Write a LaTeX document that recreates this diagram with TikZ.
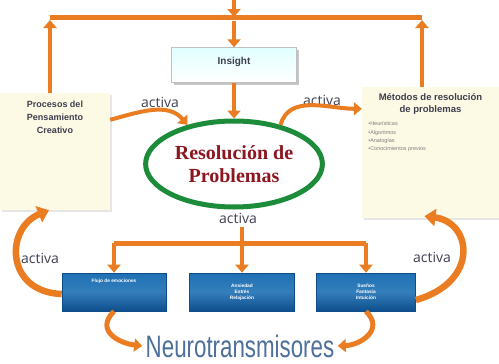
\documentclass[tikz,border=0pt]{standalone}
\usepackage{fontspec}
\setmainfont{Liberation Sans}
\newfontfamily\serifa{Liberation Serif}
\newfontfamily\redonda{Open Sans}
\usetikzlibrary{arrows.meta,shadows,positioning,shapes.geometric}
\definecolor{naranja}{RGB}{234,124,34}
\definecolor{verde}{RGB}{28,140,58}
\definecolor{rojo}{RGB}{140,22,32}
\definecolor{azul}{RGB}{30,112,180}
\definecolor{azulosc}{RGB}{14,78,140}
\definecolor{crema}{RGB}{252,249,228}
\definecolor{gristexto}{RGB}{62,62,78}
\definecolor{neuro}{RGB}{78,112,156}
\tikzset{
  flecha/.style={draw=naranja, line width=4.5pt, -{Triangle[length=8pt,width=13pt]}},
  curva/.style={flecha, line width=6.5pt, -{Triangle[length=11pt,width=17pt]}},
  crema/.style={fill=crema, drop shadow={opacity=0.2,shadow xshift=1.5pt,shadow yshift=-1.5pt}},
  azulbox/.style={draw=azulosc, line width=0.6pt, top color=azul, bottom color=azulosc, middle color=azul!90!white,
    minimum height=38pt, font=\bfseries\fontsize{4.8}{6}\selectfont, text=white, align=center},
  activa/.style={font=\redonda\fontsize{14}{14}\selectfont, text=gristexto}
}
\begin{document}
\begin{tikzpicture}[x=1pt,y=-1pt]
  \useasboundingbox (0,0) rectangle (499,364);
  % cajas
  \node (insight) [draw=gray!50, top color=cyan!12, bottom color=white, minimum width=125pt, minimum height=35pt,
    drop shadow={opacity=0.45,shadow xshift=2pt,shadow yshift=-2pt}] at (234,65) {};
  \node at ([yshift=-6pt]insight.north) [anchor=north, font=\bfseries\fontsize{10}{12}\selectfont, text=gristexto] (insightT) {Insight};
  \node (procesos) [crema, minimum width=110pt, minimum height=117pt] at (55,151.5) {};
  \node (procesosT) [below=5pt of procesos.north, align=center, font=\bfseries\fontsize{9}{13}\selectfont, text=gristexto]
    {Procesos del\\Pensamiento\\Creativo};
  \node (metodos) [crema, minimum width=137pt, minimum height=131pt] at (430.5,152.5) {};
  \node (metodosT) [below=3pt of metodos.north, align=center, font=\bfseries\fontsize{9.5}{12.5}\selectfont, text=gristexto]
    {Métodos de resolución\\de problemas};
  \node (bullets) [below right=0pt and 3pt of metodos.north west |- metodosT.south, align=left,
    font=\fontsize{5.5}{8.3}\selectfont, text=gray] {•Heurísticas\\•Algoritmos\\•Analogías\\•Conocimientos previos};
  \node (resol) [ellipse, draw=verde, line width=5pt, fill=white, minimum width=164pt, minimum height=86pt,
    align=center, font=\serifa\bfseries\fontsize{20}{23}\selectfont, text=rojo] at (234,164)
    {Resolución de\\Problemas};
  \node (flujo) [azulbox, minimum width=104pt] at (114,292) {};
  \node (flujoT) [below=3pt of flujo.north, font=\bfseries\fontsize{4.8}{6}\selectfont, text=white] {Flujo de emociones};
  \node (ansiedad) [azulbox, minimum width=105pt] at (242,292) {Ansiedad\\Estrés\\Relajación};
  \node (suenos) [azulbox, minimum width=99pt] at (366,292) {Sueños\\Fantasía\\Intuición};
  \node (neurotr) [text=neuro] at (240,346) {\scalebox{0.72}[1]{\fontsize{31}{31}\selectfont Neurotransmisores}};
  % etiquetas
  \node (act1) [activa] at (160,102) {activa};
  \node (act2) [activa] at (322,100) {activa};
  \node (act3) [activa] at (238,218) {activa};
  \node (act4) [activa] at (40,258) {activa};
  \node (act5) [activa] at (432,257) {activa};
  % barra superior
  \coordinate (barL) at (50,17);
  \coordinate (barR) at (422,17);
  \coordinate (arriba) at (234,0);
  \draw[naranja, line width=5pt] (barL) -- (barR);
  \draw[flecha] (arriba) -- (arriba |- barL);
  \draw[flecha] ([yshift=-4pt]arriba |- barL) -- (insight.north);
  \draw[flecha] (procesos.north -| barL) -- ([yshift=-3pt]barL);
  \draw[flecha] (metodos.north -| barR) -- ([yshift=-3pt]barR);
  \draw[flecha] (insight.south) -- (resol.north);
  % barra inferior
  \coordinate (bajo) at (0,243);
  \draw[naranja, line width=5pt] (flujo.north |- bajo) -- (suenos.north |- bajo);
  \draw[flecha] (act3.south -| ansiedad.north) -- (ansiedad.north);
  \draw[flecha] (flujo.north |- bajo) -- (flujo.north);
  \draw[flecha] (suenos.north |- bajo) -- (suenos.north);
  % curvas
  \draw[flecha, line width=4pt] ([yshift=-27pt]procesos.north east) to[out=15,in=130] (resol.140);
  \draw[flecha, line width=4pt] (resol.40) to[out=75,in=180] ([yshift=-22pt]metodos.north west);
  \draw[curva] ([yshift=-2pt]flujo.west) .. controls (5,292) and (5,228) .. ([xshift=-6pt]procesos.south);
  \draw[curva] ([yshift=-8pt]suenos.east) .. controls (480,282) and (472,222) .. ([xshift=-6pt,yshift=2pt]metodos.south);
  \draw[flecha, line width=5pt] (flujo.south) .. controls (95,330) and (118,343) .. (neurotr.west);
  \draw[flecha, line width=5pt] (suenos.south) .. controls (385,330) and (360,345) .. (neurotr.east);
\end{tikzpicture}
\end{document}
